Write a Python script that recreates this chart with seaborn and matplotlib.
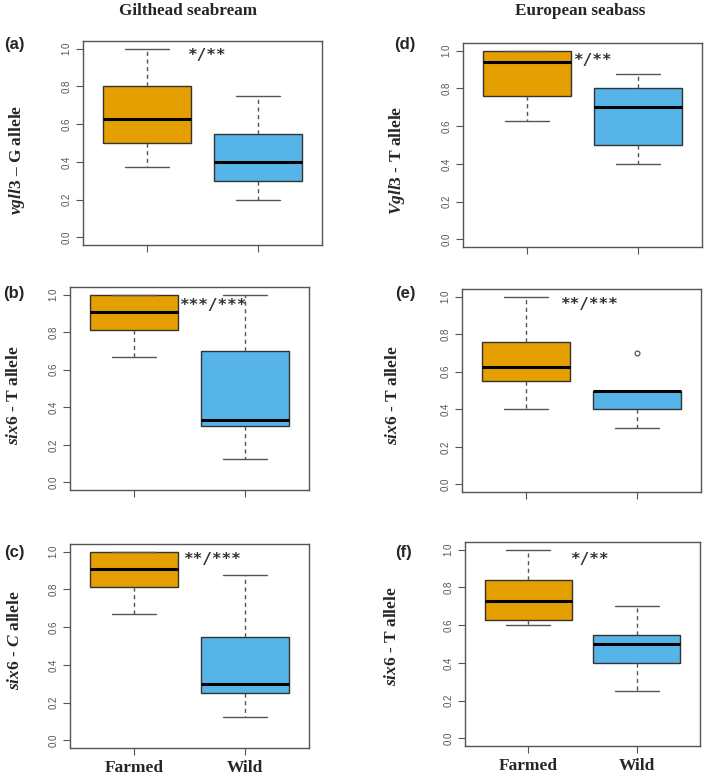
import pandas as pd
import seaborn as sns
import matplotlib.pyplot as plt

# Five-number summaries (min, Q1, median, Q3, max / outlier)
groups = ["Farmed", "Wild"]
a_farmed = [0.375, 0.5, 0.625, 0.8, 1.0]
a_wild = [0.2, 0.3, 0.4, 0.55, 0.75]
b_farmed = [0.667, 0.8125, 0.906, 1.0, 1.0]
b_wild = [0.125, 0.3, 0.333, 0.7, 1.0]
c_farmed = [0.667, 0.8125, 0.906, 1.0, 1.0]
c_wild = [0.125, 0.25, 0.3, 0.55, 0.875]
d_farmed = [0.625, 0.76, 0.94, 1.0, 1.0]
d_wild = [0.4, 0.5, 0.7, 0.8, 0.875]
e_farmed = [0.4, 0.55, 0.625, 0.757, 1.0]
e_wild = [0.3, 0.4, 0.5, 0.5, 0.7]
f_farmed = [0.6, 0.625, 0.73, 0.84, 1.0]
f_wild = [0.25, 0.4, 0.5, 0.55, 0.7]

panel_tags = ["(a)", "(b)", "(c)", "(d)", "(e)", "(f)"]
ylabels = [r"$\it{vgll3}$ – G allele", r"$\it{six6}$ - T allele", r"$\it{six6}$ - $\it{C}$ allele",
           r"$\it{Vgll3}$ - T allele", r"$\it{six6}$ - T allele", r"$\it{six6}$ - T allele"]
signif = ["*/**", "***/***", "**/***", "*/**", "**/***", "*/**"]
signif_pos = [(0.53, 0.965), (0.71, 0.94), (0.70, 0.96), (0.585, 0.95), (0.57, 0.955), (0.566, 0.945)]
col_titles = ["Gilthead seabream", "European seabass"]

sns.set_style("white")
plt.rcParams['mathtext.fontset'] = 'custom'
plt.rcParams['mathtext.it'] = 'Liberation Serif:italic:bold'
plt.rcParams['mathtext.rm'] = 'Liberation Serif:bold'
plt.rcParams['mathtext.bf'] = 'Liberation Serif:bold'

W, H = 709, 779
fig = plt.figure(figsize=(W / 100, H / 100), dpi=100)

# axes boxes in pixels: x0, y0, x1, y1 (y from top)
boxes = [(83, 41, 322, 245), (70, 287, 309, 490), (70, 544, 309, 748),
         (463, 43, 702, 247), (462, 289, 701, 492), (465, 542, 700, 746)]
tag_xy = [(14, 44), (14, 293), (14, 552), (405, 44), (405, 293), (403, 553)]
ylab_xy = [(17, 160), (14, 395), (15, 640), (397, 160), (393, 395), (392, 636)]

data_sets = [(a_farmed, a_wild), (b_farmed, b_wild), (c_farmed, c_wild),
             (d_farmed, d_wild), (e_farmed, e_wild), (f_farmed, f_wild)]
palette = {"Farmed": "#E69F00", "Wild": "#56B4E9"}
frame_col = "#555555"

for i, (farmed, wild) in enumerate(data_sets):
    x0, y0, x1, y1 = boxes[i]
    ax = fig.add_axes([x0 / W, 1 - y1 / H, (x1 - x0) / W, (y1 - y0) / H])
    df = pd.DataFrame({"group": [groups[0]] * len(farmed) + [groups[1]] * len(wild),
                       "value": farmed + wild})
    sns.boxplot(data=df, x="group", y="value", hue="group", palette=palette,
                saturation=1, width=0.8, linecolor="#333333", linewidth=1,
                whiskerprops={"linestyle": (0, (3, 2.5)), "color": "#555555"},
                capprops={"color": "#555555"},
                medianprops={"color": "black", "linewidth": 2.2},
                flierprops={"marker": "o", "markerfacecolor": "none",
                            "markeredgecolor": "#444444", "markersize": 3.5,
                            "markeredgewidth": 0.8},
                legend=False, ax=ax)
    ax.set_xlim(-0.58, 1.58)
    ax.set_ylim(-0.04, 1.04)
    ax.set_yticks([0, 0.2, 0.4, 0.6, 0.8, 1.0])
    ax.set_yticklabels(["0.0", "0.2", "0.4", "0.6", "0.8", "1.0"], rotation=90,
                       va="center", fontsize=7, color="#555555", family="Liberation Sans")
    ax.set_xlabel("")
    ax.set_ylabel("")
    for s in ax.spines.values():
        s.set_color(frame_col)
        s.set_linewidth(1)
    ax.tick_params(axis="both", direction="out", length=5, width=0.8, color=frame_col,
                   left=True, bottom=True)
    ax.set_xticks([0, 1])
    if i in (2, 5):
        ax.set_xticklabels(groups, fontsize=12.5, fontweight="bold", family="Liberation Serif")
        ax.tick_params(axis="x", pad=4)
    else:
        ax.set_xticklabels(["", ""])
    sx, sy = signif_pos[i]
    ax.text(sx, sy, signif[i], ha="center", va="center", fontsize=11.5, fontweight="bold",
            color="#333333", family="DejaVu Sans Mono")

    tx, ty = tag_xy[i]
    fig.text(tx / W, 1 - ty / H, panel_tags[i], ha="center", va="center",
             fontsize=12, fontweight="bold", family="Liberation Sans")
    lx, ly = ylab_xy[i]
    fig.text(lx / W, 1 - ly / H, ylabels[i], ha="center", va="center", rotation=90,
             fontsize=12.5, fontweight="bold", family="Liberation Serif")

for title, cx in zip(col_titles, [188, 580]):
    fig.text(cx / W, 1 - 11 / H, title, ha="center", va="center", fontsize=12.3,
             fontweight="bold", family="Liberation Serif")

fig.savefig("out.png", dpi=100)
